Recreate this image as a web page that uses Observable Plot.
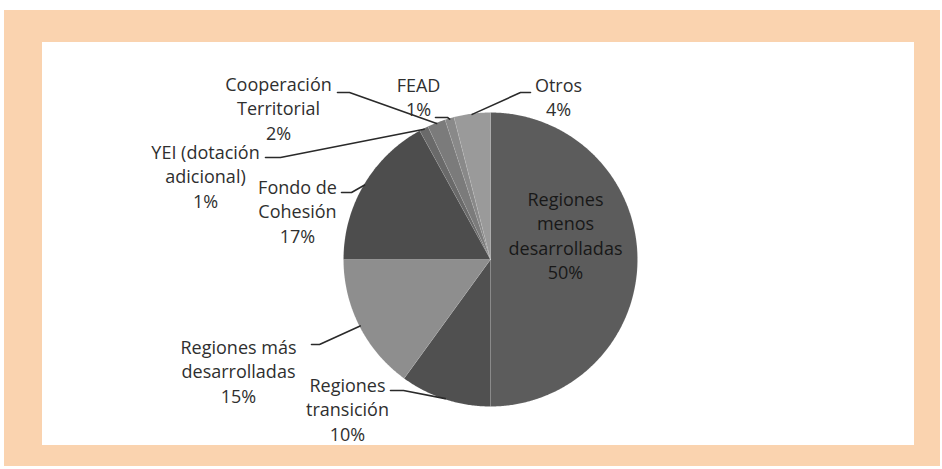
<!DOCTYPE html>
<html><head><meta charset="utf-8">
<script src="https://cdn.jsdelivr.net/npm/d3@7"></script>
<script src="https://cdn.jsdelivr.net/npm/@observablehq/plot@0.6"></script>
<style>
html,body{margin:0;padding:0;background:#fff;}
#wrap{position:relative;width:942px;height:469px;overflow:hidden;}
#outer{position:absolute;left:4px;top:10px;width:936px;height:456px;background:#FAD3AF;}
#inner{position:absolute;left:42px;top:42px;width:872px;height:403px;background:#fff;}
#chart{position:absolute;left:0;top:0;}
</style></head><body>
<div id="wrap"><div id="outer"></div><div id="inner"></div><div id="chart"></div></div>
<script>
// ---- data ----
const categories = ["Regiones menos desarrolladas", "Regiones transición", "Regiones más desarrolladas", "Fondo de Cohesión", "YEI (dotación adicional)", "Cooperación Territorial", "FEAD", "Otros"];
const shares = [50, 10, 15, 17, 1, 2, 1, 4];
const labelTexts = ["Regiones\nmenos\ndesarrolladas", "Regiones\ntransición", "Regiones más\ndesarrolladas", "Fondo de\nCohesión", "YEI (dotación\nadicional)", "Cooperación\nTerritorial", "FEAD", "Otros"];

// ---- styles / layout ----
const sliceColors = ["#5c5c5c", "#505050", "#8e8e8e", "#4d4d4d", "#6a6a6a", "#7b7b7b", "#898989", "#9a9a9a"];
const cx = 490, cy = 259, R = 147;
// label block centre (pixels) and leader elbow points (pixels)
const labelLayout = [
  {x: 565, y: 234, inside: true},
  {x: 347, y: 408, leader: [[390, 390], [403, 390]]},
  {x: 238, y: 370, leader: [[311, 344], [319, 344]]},
  {x: 297, y: 210, leader: [[341, 192], [351, 192]]},
  {x: 205, y: 175, leader: [[265, 157], [280, 157]]},
  {x: 278, y: 107, leader: [[337, 92], [349, 92]]},
  {x: 418, y: 95.5, leader: [[435, 117], [447, 117]]},
  {x: 558, y: 95.5, leader: [[530, 92], [520, 92]]}
];

const toX = px => (px - cx) / R, toY = py => (cy - py) / R;
const arcs = d3.pie().sort(null).value(d => d)(shares);
const slices = categories.map((c, i) => ({name: c, share: shares[i], color: sliceColors[i], a0: arcs[i].startAngle, a1: arcs[i].endAngle}));

const polyPts = [];
for (const s of slices) {
  polyPts.push({name: s.name, color: s.color, x: 0, y: 0});
  const n = Math.max(2, Math.ceil((s.a1 - s.a0) / (Math.PI / 360)));
  for (let k = 0; k <= n; k++) {
    const a = s.a0 + (s.a1 - s.a0) * k / n;
    polyPts.push({name: s.name, color: s.color, x: Math.sin(a), y: Math.cos(a)});
  }
  polyPts.push({name: s.name, color: s.color, x: 0, y: 0});
}

const leaderPts = [];
labelLayout.forEach((L, i) => {
  if (!L.leader) return;
  const s = slices[i], m = (s.a0 + s.a1) / 2;
  L.leader.forEach(p => leaderPts.push({name: s.name, x: toX(p[0]), y: toY(p[1])}));
  leaderPts.push({name: s.name, x: Math.sin(m) * 0.995, y: Math.cos(m) * 0.995});
});

const labels = slices.map((s, i) => ({
  text: labelTexts[i] + "\n" + s.share + "%",
  x: toX(labelLayout[i].x), y: toY(labelLayout[i].y), inside: !!labelLayout[i].inside
}));

const chart = Plot.plot({
  width: 942, height: 469, margin: 0,
  x: {domain: [-1, 1], range: [cx - R, cx + R], axis: null},
  y: {domain: [-1, 1], range: [cy + R, cy - R], axis: null},
  color: {type: "identity"},
  style: {background: "transparent", overflow: "visible"},
  marks: [
    Plot.line(polyPts, {x: "x", y: "y", z: "name", fill: "color", stroke: "#ffffff", strokeOpacity: 0.08, strokeWidth: 1, curve: "linear"}),
    Plot.line(leaderPts, {x: "x", y: "y", z: "name", stroke: "#2a2a2a", strokeWidth: 1.6, curve: "linear"}),
    Plot.text(labels.filter(d => !d.inside), {x: "x", y: "y", text: "text", fill: "#2f2f2f", fontFamily: "Open Sans", fontSize: 18, lineHeight: 1.36}),
    Plot.text(labels.filter(d => d.inside), {x: "x", y: "y", text: "text", fill: "#181818", fontFamily: "Open Sans", fontSize: 18, lineHeight: 1.36})
  ]
});
document.getElementById("chart").appendChild(chart);
</script>
</body></html>
